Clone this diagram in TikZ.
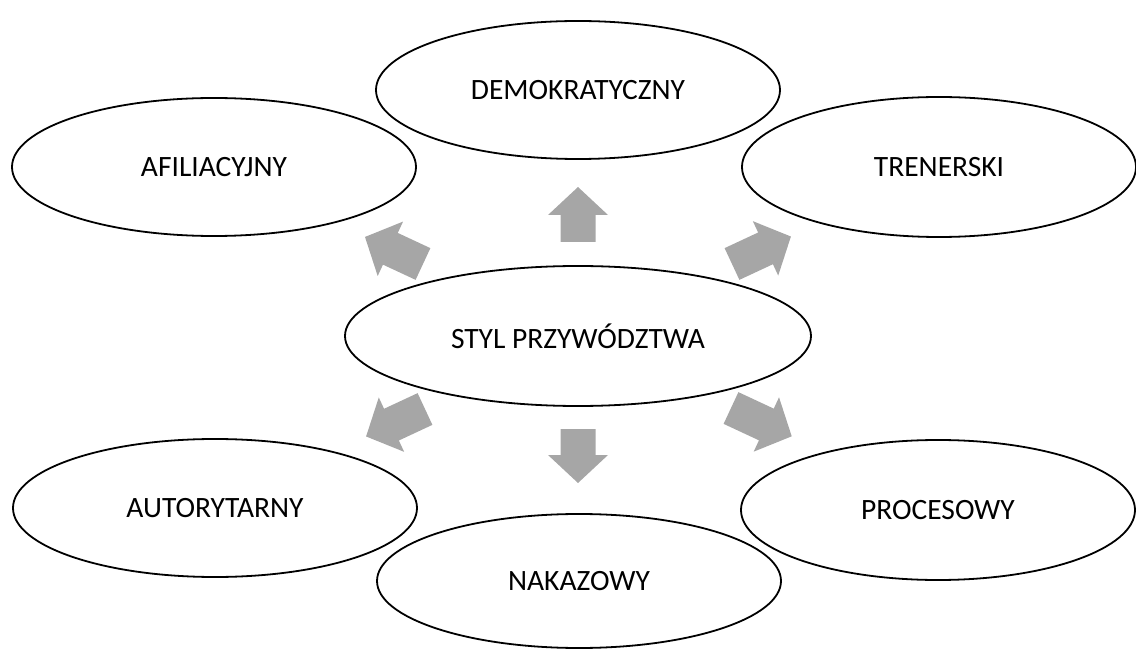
\documentclass[tikz,border=0pt]{standalone}
\usepackage{fontspec}
\setmainfont{Carlito}
\usetikzlibrary{shapes.geometric}
\definecolor{arrowfill}{RGB}{166,166,166}
\tikzset{
  x=1pt, y=1pt,
  styl/.style={draw=black, line width=1.8pt, ellipse, inner sep=0pt,
    font=\fontsize{29.5}{33}\selectfont},
  pics/blockarrow/.style={code={
    \fill[arrowfill] (0,-17.5) -- ({#1-28},-17.5) -- ({#1-28},-30) -- (#1,0)
      -- ({#1-28},30) -- ({#1-28},17.5) -- (0,17.5) -- cycle;}}
}
\begin{document}
\begin{tikzpicture}
\useasboundingbox (0,0) rectangle (1136,649);
% central ellipse
\node[styl, minimum width=466, minimum height=140] (center) at (578,313) {STYL PRZYWÓDZTWA};
% surrounding styles
\node[styl, minimum width=404, minimum height=138] (dem) at (578,559) {DEMOKRATYCZNY};
\node[styl, minimum width=404, minimum height=138] (afi) at (214,482) {AFILIACYJNY};
\node[styl, minimum width=394, minimum height=140] (tre) at (939,482) {TRENERSKI};
\node[styl, minimum width=404, minimum height=138] (aut) at (215,141) {AUTORYTARNY};
\node[styl, minimum width=404, minimum height=134] (nak) at (579,68) {NAKAZOWY};
\node[styl, minimum width=394, minimum height=140] (pro) at (938,139) {PROCESOWY};
% block arrows pointing outward
\pic[rotate=90] at (578,407) {blockarrow=55};
\pic[rotate=-90] at (578,220) {blockarrow=54};
\pic[rotate=155] at (423,385) {blockarrow=64};
\pic[rotate=25] at (732,385) {blockarrow=65};
\pic[rotate=205] at (425,240) {blockarrow=65};
\pic[rotate=-25] at (731,241) {blockarrow=67};
\end{tikzpicture}
\end{document}
